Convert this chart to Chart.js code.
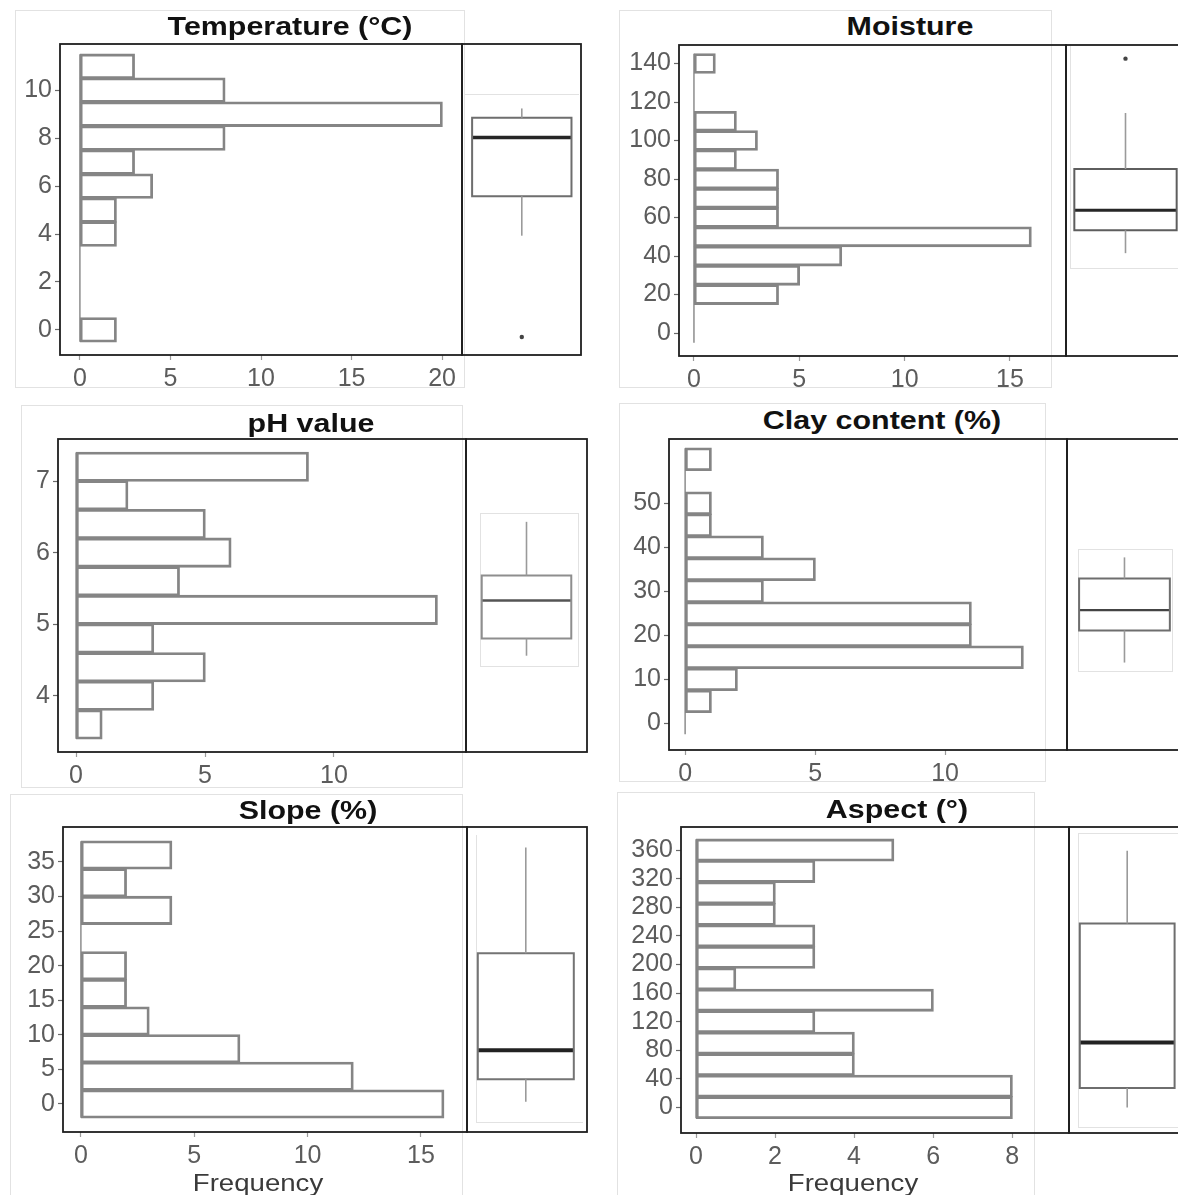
<!DOCTYPE html>
<html>
<head>
<meta charset="utf-8">
<title>Soil and terrain variables</title>
<script src="https://cdn.jsdelivr.net/npm/chart.js@4.4.1/dist/chart.umd.min.js"></script>
<style>
  html, body { margin: 0; padding: 0; background: #fff; }
  body { width: 1178px; height: 1195px; overflow: hidden; position: relative;
         font-family: "Liberation Sans", Arial, Helvetica, sans-serif; }
  canvas { position: absolute; }
  .title { position: absolute; white-space: nowrap; line-height: 1; font-weight: bold;
           font-size: 26px; color: #111; transform: translate(-50%, -50%) scaleX(1.17); }
  .axis-title { position: absolute; white-space: nowrap; line-height: 1; font-size: 24px;
           color: #3a3a3a; transform: translate(-50%, -50%) scaleX(1.15); }
  .edge { position: absolute; box-sizing: border-box; border: 0 solid #e2e2e2; }
</style>
</head>
<body>
<script>
// ---- Temperature (°C) ----
const temperatureBins      = [0, 1, 2, 3, 4, 5, 6, 7, 8, 9, 10, 11];
const temperatureCounts    = [2, 0, 0, 0, 2, 2, 4, 3, 8, 20, 8, 3];
const temperatureBox       = [3.93, 5.58, 8.03, 8.85, 9.24];   // lower whisker, Q1, median, Q3, upper whisker
const temperatureOutliers  = [-0.3];
const temperatureTicks     = [0, 2, 4, 6, 8, 10];
const temperatureFreqTicks = [0, 5, 10, 15, 20];

// ---- Moisture ----
const moistureBins      = [0, 10, 20, 30, 40, 50, 60, 70, 80, 90, 100, 110, 120, 130, 140];
const moistureCounts    = [0, 0, 4, 5, 7, 16, 4, 4, 4, 2, 3, 2, 0, 0, 1];
const moistureBox       = [41.5, 53.4, 63.8, 85.2, 114.3];
const moistureOutliers  = [142.5];
const moistureTicks     = [0, 20, 40, 60, 80, 100, 120, 140];
const moistureFreqTicks = [0, 5, 10, 15];

// ---- pH value ----
const phBins      = [3.6, 4.0, 4.4, 4.8, 5.2, 5.6, 6.0, 6.4, 6.8, 7.2];
const phCounts    = [1, 3, 5, 3, 14, 4, 6, 5, 2, 9];
const phBox       = [4.56, 4.80, 5.33, 5.68, 6.43];
const phOutliers  = [];
const phTicks     = [4, 5, 6, 7];
const phFreqTicks = [0, 5, 10];

// ---- Clay content (%) ----
const clayBins      = [0, 5, 10, 15, 20, 25, 30, 35, 40, 45, 50, 55, 60];
const clayCounts    = [0, 1, 2, 13, 11, 11, 3, 5, 3, 1, 1, 0, 1];
const clayBox       = [13.8, 21.1, 25.7, 32.9, 37.7];
const clayOutliers  = [];
const clayTicks     = [0, 10, 20, 30, 40, 50];
const clayFreqTicks = [0, 5, 10];

// ---- Slope (%) ----
const slopeBins      = [0, 4, 8, 12, 16, 20, 24, 28, 32, 36];
const slopeCounts    = [16, 12, 7, 3, 2, 2, 0, 4, 2, 4];
const slopeBox       = [0.33, 3.57, 7.76, 21.8, 37.1];
const slopeOutliers  = [];
const slopeTicks     = [0, 5, 10, 15, 20, 25, 30, 35];
const slopeFreqTicks = [0, 5, 10, 15];

// ---- Aspect (°) ----
const aspectBins      = [0, 30, 60, 90, 120, 150, 180, 210, 240, 270, 300, 330, 360];
const aspectCounts    = [8, 8, 4, 4, 3, 6, 1, 3, 3, 2, 2, 3, 5];
const aspectBox       = [0, 27.4, 90.9, 257.4, 359];
const aspectOutliers  = [];
const aspectTicks     = [0, 40, 80, 120, 160, 200, 240, 280, 320, 360];
const aspectFreqTicks = [0, 2, 4, 6, 8];

// Page layout: frame = plot rectangle (left, top, bottom, divider between histogram and box, right)
const panels = [
  { title: 'Temperature (°C)', titleAt: [290, 26],
    bins: temperatureBins, counts: temperatureCounts, box: temperatureBox, outliers: temperatureOutliers,
    yTicks: temperatureTicks, xTicks: temperatureFreqTicks,
    frame: { l: 60, t: 44, b: 355, d: 462, r: 581 }, yRange: [-1.05, 11.93], xRange: [-1.1, 21.1],
    boxSpan: [0.085, 0.92], medianWidth: 3.5, medianColor: '#262626', boxColor: '#6e6e6e' },
  { title: 'Moisture', titleAt: [910, 26],
    bins: moistureBins, counts: moistureCounts, box: moistureBox, outliers: moistureOutliers,
    yTicks: moistureTicks, xTicks: moistureFreqTicks,
    frame: { l: 679, t: 45, b: 356, d: 1066, r: 1185 }, yRange: [-11.9, 149.6], xRange: [-0.71, 17.66],
    boxSpan: [0.07, 0.93], medianWidth: 3, medianColor: '#262626', boxColor: '#5e5e5e' },
  { title: 'pH value', titleAt: [311, 423],
    bins: phBins, counts: phCounts, box: phBox, outliers: phOutliers,
    yTicks: phTicks, xTicks: phFreqTicks,
    frame: { l: 58, t: 439, b: 752, d: 466, r: 587 }, yRange: [3.215, 7.587], xRange: [-0.70, 15.12],
    boxSpan: [0.13, 0.87], medianWidth: 2.5, medianColor: '#555555', boxColor: '#8e8e8e' },
  { title: 'Clay content (%)', titleAt: [882, 420],
    bins: clayBins, counts: clayCounts, box: clayBox, outliers: clayOutliers,
    yTicks: clayTicks, xTicks: clayFreqTicks,
    frame: { l: 669, t: 439, b: 750, d: 1067, r: 1188 }, yRange: [-6.07, 64.6], xRange: [-0.62, 14.69],
    boxSpan: [0.1, 0.85], medianWidth: 2.2, medianColor: '#444444', boxColor: '#6e6e6e' },
  { title: 'Slope (%)', titleAt: [308, 810], axisTitleAt: [258, 1183],
    bins: slopeBins, counts: slopeCounts, box: slopeBox, outliers: slopeOutliers,
    yTicks: slopeTicks, xTicks: slopeFreqTicks,
    frame: { l: 63, t: 827, b: 1132, d: 467, r: 587 }, yRange: [-4.05, 40.06], xRange: [-0.79, 17.03],
    boxSpan: [0.09, 0.89], medianWidth: 4, medianColor: '#222222', boxColor: '#747474' },
  { title: 'Aspect (°)', titleAt: [897, 809], axisTitleAt: [853, 1183],
    bins: aspectBins, counts: aspectCounts, box: aspectBox, outliers: aspectOutliers,
    yTicks: aspectTicks, xTicks: aspectFreqTicks,
    frame: { l: 681, t: 827, b: 1133, d: 1069, r: 1189 }, yRange: [-35.6, 392.2], xRange: [-0.38, 9.44],
    boxSpan: [0.09, 0.88], medianWidth: 4, medianColor: '#222222', boxColor: '#6e6e6e' }
];

// Thin light borders around the individual plot tiles: [left, top, right, bottom, sides]
const panelEdges = [
  [15, 10, 465, 388, 'trbl'], [619, 10, 1052, 388, 'trbl'],
  [21, 405, 463, 788, 'trbl'], [619, 403, 1046, 782, 'trbl'],
  [10, 794, 463, 1200, 'trbl'], [617, 792, 1035, 1200, 'trbl'],
  [465, 94, 579, 120, 't'], [1070, 46, 1190, 269, 'lb'],
  [480, 513, 579, 667, 'trbl'], [1078, 549, 1173, 672, 'trbl'],
  [476, 835, 583, 1123, 'lb'], [1078, 833, 1190, 1128, 'tlb']
];

const FONT = '"Liberation Sans", Arial, Helvetica, sans-serif';
Chart.defaults.font.family = FONT;
const TICK_FONT = { family: FONT, size: 25 };
const TICK_COLOR = '#5c5c5c';
const BAR_COLOR = '#858585';
const FRAME_COLOR = '#1e1e1e';

// strokes a rectangle around the plotting area
const framePlugin = {
  id: 'frame',
  afterDraw(chart, args, opts) {
    const { ctx, chartArea: a } = chart;
    ctx.save();
    ctx.strokeStyle = opts.color;
    ctx.lineWidth = opts.width;
    ctx.strokeRect(a.left, a.top, a.right - a.left, a.bottom - a.top);
    ctx.restore();
  }
};

function makeCanvas(left, top, w, h) {
  const cv = document.createElement('canvas');
  cv.width = w; cv.height = h;
  cv.style.left = left + 'px'; cv.style.top = top + 'px';
  cv.style.width = w + 'px'; cv.style.height = h + 'px';
  document.body.appendChild(cv);
  return cv;
}

function fixedTicks(values) {
  return scale => { scale.ticks = values.map(v => ({ value: v })); };
}

function histogram(p) {
  const YW = 70, XH = 44, PAD = 4;
  const f = p.frame;
  const plotW = f.d - f.l, plotH = f.b - f.t;
  const cv = makeCanvas(f.l - YW, f.t - PAD, YW + plotW + PAD, PAD + plotH + XH);
  const step = p.bins[1] - p.bins[0];
  const lowEdge = p.bins[0] - step / 2;
  const highEdge = p.bins[p.bins.length - 1] + step / 2;
  new Chart(cv, {
    type: 'bar',
    data: {
      datasets: [
        { type: 'bar', order: 2,
          data: p.bins.map((b, i) => ({ x: p.counts[i], y: b })),
          backgroundColor: 'rgba(255,255,255,0)', borderColor: BAR_COLOR,
          borderWidth: 1.4, inflateAmount: 0.7, borderSkipped: false,
          categoryPercentage: 1, barPercentage: 1 },
        // empty bins collapse onto the zero line
        { type: 'line', order: 1,
          data: [{ x: 0, y: lowEdge }, { x: 0, y: highEdge }],
          borderColor: BAR_COLOR, borderWidth: 1.4, pointRadius: 0, fill: false }
      ]
    },
    options: {
      indexAxis: 'y', responsive: false, animation: false, events: [],
      layout: { padding: { top: PAD, right: PAD, left: 0, bottom: 0 } },
      plugins: { legend: { display: false }, tooltip: { enabled: false },
                 frame: { color: FRAME_COLOR, width: 1.8 } },
      scales: {
        y: { type: 'linear', position: 'left', min: p.yRange[0], max: p.yRange[1], offset: false,
             afterBuildTicks: fixedTicks(p.yTicks),
             afterFit: s => { s.width = YW; s.paddingTop = 0; s.paddingBottom = 0; },
             border: { display: false },
             grid: { offset: false, drawOnChartArea: false, drawTicks: true, tickLength: 5,
                     tickColor: '#6a6a6a', tickWidth: 1.2 },
             ticks: { color: TICK_COLOR, font: TICK_FONT, padding: 3, autoSkip: false, callback: v => String(v) } },
        x: { type: 'linear', position: 'bottom', min: p.xRange[0], max: p.xRange[1], offset: false,
             afterBuildTicks: fixedTicks(p.xTicks),
             afterFit: s => { s.height = XH; s.paddingLeft = 0; s.paddingRight = 0; },
             border: { display: false },
             grid: { offset: false, drawOnChartArea: false, drawTicks: true, tickLength: 5,
                     tickColor: '#9a9a9a', tickWidth: 1.2 },
             ticks: { color: TICK_COLOR, font: TICK_FONT, padding: 4, autoSkip: false, maxRotation: 0,
                      callback: v => String(v) } }
      }
    },
    plugins: [framePlugin]
  });
}

function boxPlot(p) {
  const PAD = 4;
  const f = p.frame;
  const cv = makeCanvas(f.d - PAD, f.t - PAD, (f.r - f.d) + 2 * PAD, (f.b - f.t) + 2 * PAD);
  const [lo, q1, med, q3, hi] = p.box;
  const [a, b] = p.boxSpan;
  const c = (a + b) / 2;
  const seg = (data, color, width) => ({
    data, showLine: true, borderColor: color, borderWidth: width, pointRadius: 0,
    fill: false, tension: 0, borderCapStyle: 'butt', borderJoinStyle: 'miter'
  });
  const whisker = '#9a9a9a';
  new Chart(cv, {
    type: 'scatter',
    data: {
      datasets: [
        seg([{ x: c, y: q3 }, { x: c, y: hi }], whisker, 1.6),
        seg([{ x: c, y: lo }, { x: c, y: q1 }], whisker, 1.6),
        Object.assign(seg([{ x: a, y: q1 }, { x: b, y: q1 }, { x: b, y: q3 }, { x: a, y: q3 }, { x: a, y: q1 }],
                          p.boxColor, 2), { borderCapStyle: 'square' }),
        seg([{ x: a, y: med }, { x: b, y: med }], p.medianColor, p.medianWidth),
        { data: p.outliers.map(v => ({ x: c, y: v })), showLine: false,
          pointRadius: 2.2, pointBackgroundColor: '#444', pointBorderWidth: 0 }
      ]
    },
    options: {
      responsive: false, animation: false, events: [],
      layout: { padding: PAD },
      plugins: { legend: { display: false }, tooltip: { enabled: false },
                 frame: { color: FRAME_COLOR, width: 1.8 } },
      scales: {
        x: { type: 'linear', min: 0, max: 1, display: false },
        y: { type: 'linear', min: p.yRange[0], max: p.yRange[1], display: false }
      }
    },
    plugins: [framePlugin]
  });
}

function label(cls, text, at) {
  const d = document.createElement('div');
  d.className = cls;
  d.textContent = text;
  d.style.left = at[0] + 'px';
  d.style.top = at[1] + 'px';
  document.body.appendChild(d);
}

panelEdges.forEach(([l, t, r, b, sides]) => {
  const d = document.createElement('div');
  d.className = 'edge';
  d.style.left = l + 'px'; d.style.top = t + 'px';
  d.style.width = (r - l) + 'px'; d.style.height = (b - t) + 'px';
  if (sides.includes('t')) d.style.borderTopWidth = '1px';
  if (sides.includes('r')) d.style.borderRightWidth = '1px';
  if (sides.includes('b')) d.style.borderBottomWidth = '1px';
  if (sides.includes('l')) d.style.borderLeftWidth = '1px';
  document.body.appendChild(d);
});

panels.forEach(p => {
  histogram(p);
  boxPlot(p);
  label('title', p.title, p.titleAt);
  if (p.axisTitleAt) label('axis-title', 'Frequency', p.axisTitleAt);
});
</script>
</body>
</html>
